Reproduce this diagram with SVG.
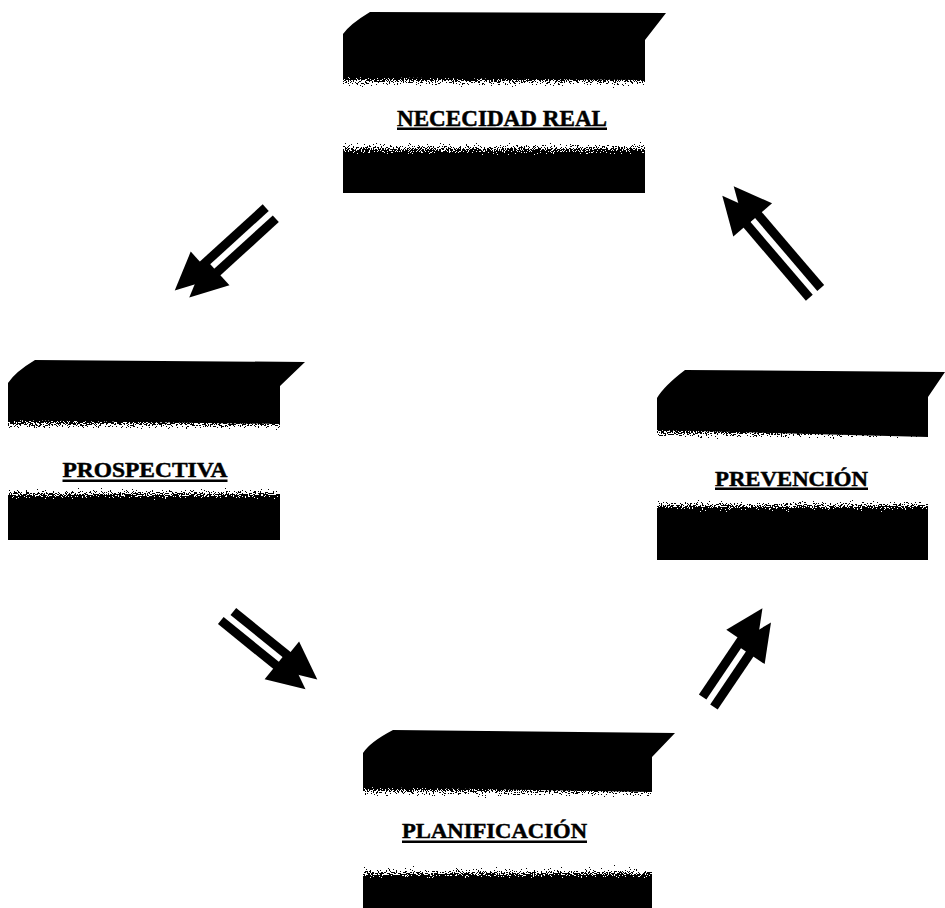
<svg xmlns="http://www.w3.org/2000/svg" width="945" height="908" viewBox="0 0 945 908">
  <defs>
    <style>
      .slab { fill: #000; }
      .fringe-down { fill: url(#fadeDown); filter: url(#grain); }
      .fringe-up { fill: url(#fadeUp); filter: url(#grain); }
      .label { font-family: "Liberation Serif", "Times New Roman", serif; font-weight: bold; fill: #000; stroke: #000; stroke-width: 0.5; text-anchor: middle; }
      .rule { fill: #000; }
      .shaft { stroke: #000; stroke-width: 9; stroke-linecap: butt; fill: none; }
      .head { fill: #000; }
    </style>
    <!-- opacity ramps that the grain filter turns into a speckled edge -->
    <linearGradient id="fadeDown" x1="0" y1="0" x2="0" y2="1">
      <stop offset="0" stop-color="#000" stop-opacity="1"/>
      <stop offset="1" stop-color="#000" stop-opacity="0"/>
    </linearGradient>
    <linearGradient id="fadeUp" x1="0" y1="0" x2="0" y2="1">
      <stop offset="0" stop-color="#000" stop-opacity="0"/>
      <stop offset="1" stop-color="#000" stop-opacity="1"/>
    </linearGradient>
    <filter id="grain" x="0" y="0" width="1" height="1" color-interpolation-filters="sRGB">
      <feTurbulence type="fractalNoise" baseFrequency="0.75 0.9" numOctaves="2" seed="7" result="noise"/>
      <feColorMatrix in="noise" type="matrix" values="0 0 0 0 0  0 0 0 0 0  0 0 0 0 0  1 0 0 0 0" result="noiseAlpha"/>
      <feComposite in="SourceAlpha" in2="noiseAlpha" operator="arithmetic" k1="0" k2="1" k3="1" k4="-0.5" result="sum"/>
      <feComponentTransfer in="sum" result="mask">
        <feFuncA type="discrete" tableValues="0 1"/>
      </feComponentTransfer>
      <feFlood flood-color="#000"/>
      <feComposite in2="mask" operator="in"/>
    </filter>
  </defs>

  <rect width="945" height="908" fill="#fff"/>

  <!-- NECECIDAD REAL -->
  <g id="node-necesidad">
    <path class="slab" d="M343,77 L343,34 Q350,24 370,12 L666,13 L645,40 L645,80 Z"/>
    <rect class="fringe-down" x="343" y="70" width="302" height="22"/>
    <text class="label" x="502" y="126" font-size="24" textLength="210" lengthAdjust="spacingAndGlyphs">NECECIDAD REAL</text>
    <rect class="rule" x="397" y="127.5" width="210" height="2.5"/>
    <rect class="fringe-up" x="343" y="138" width="302" height="22"/>
    <rect class="slab" x="343" y="155" width="302" height="38"/>
  </g>

  <!-- PROSPECTIVA -->
  <g id="node-prospectiva">
    <path class="slab" d="M8,420 L8,383 Q15,372 35,360 L305,362 L280,386 L280,424 Z"/>
    <rect class="fringe-down" x="8" y="413" width="272" height="22"/>
    <text class="label" x="145" y="477" font-size="22" textLength="165" lengthAdjust="spacingAndGlyphs">PROSPECTIVA</text>
    <rect class="rule" x="62.5" y="479.5" width="165" height="2.5"/>
    <rect class="fringe-up" x="8" y="483" width="272" height="22"/>
    <rect class="slab" x="8" y="500" width="272" height="40"/>
  </g>

  <!-- PREVENCIÓN -->
  <g id="node-prevencion">
    <path class="slab" d="M657,430 L657,398 Q664,386 685,370 L945,372 L928,397 L928,437 Z"/>
    <rect class="fringe-down" x="657" y="422" width="271" height="22"/>
    <text class="label" x="791.5" y="486" font-size="21.5" textLength="153" lengthAdjust="spacingAndGlyphs">PREVENCIÓN</text>
    <rect class="rule" x="715" y="487.5" width="153" height="2.5"/>
    <rect class="fringe-up" x="657" y="495" width="271" height="22"/>
    <rect class="slab" x="657" y="512" width="271" height="48"/>
  </g>

  <!-- PLANIFICACIÓN -->
  <g id="node-planificacion">
    <path class="slab" d="M363,787 L363,753 Q370,742 393,730 L675,733 L652,757 L652,792 Z"/>
    <rect class="fringe-down" x="363" y="780" width="289" height="22"/>
    <text class="label" x="494.5" y="838" font-size="22" textLength="185" lengthAdjust="spacingAndGlyphs">PLANIFICACIÓN</text>
    <rect class="rule" x="402" y="840.5" width="185" height="2.5"/>
    <rect class="fringe-up" x="363" y="862" width="289" height="22"/>
    <rect class="slab" x="363" y="878" width="289" height="30"/>
  </g>

  <!-- double arrows; each drawn pointing along +x, tip near the origin -->
  <g id="connectors">
    <g id="arrow-necesidad-prospectiva" transform="translate(182,294) rotate(137.7)">
      <line class="shaft" x1="-120" y1="7.5" x2="-27" y2="7.5"/>
      <polygon class="head" points="3,7.5 -35,-10.5 -35,25.5"/>
      <line class="shaft" x1="-120" y1="-7.5" x2="-33" y2="-7.5"/>
      <polygon class="head" points="-3,-7.5 -41,-25.5 -41,10.5"/>
    </g>
    <g id="arrow-prospectiva-planificacion" transform="translate(311,684) rotate(39)">
      <line class="shaft" x1="-110" y1="7.5" x2="-31" y2="7.5"/>
      <polygon class="head" points="-1,7.5 -39,-10.5 -39,25.5"/>
      <line class="shaft" x1="-106" y1="-7.5" x2="-28" y2="-7.5"/>
      <polygon class="head" points="2,-7.5 -36,-25.5 -36,10.5"/>
    </g>
    <g id="arrow-planificacion-prevencion" transform="translate(767,615) rotate(-56)">
      <line class="shaft" x1="-104" y1="-7.5" x2="-27" y2="-7.5"/>
      <polygon class="head" points="3,-7.5 -35,-25.5 -35,10.5"/>
      <line class="shaft" x1="-106" y1="7.5" x2="-34" y2="7.5"/>
      <polygon class="head" points="-4,7.5 -42,-10.5 -42,25.5"/>
    </g>
    <g id="arrow-prevencion-necesidad" transform="translate(728,191) rotate(-130.5)">
      <line class="shaft" x1="-134" y1="7.5" x2="-30" y2="7.5"/>
      <polygon class="head" points="0,7.5 -38,-10.5 -38,25.5"/>
      <line class="shaft" x1="-134" y1="-7.5" x2="-30" y2="-7.5"/>
      <polygon class="head" points="0,-7.5 -38,-25.5 -38,10.5"/>
    </g>
  </g>
</svg>
